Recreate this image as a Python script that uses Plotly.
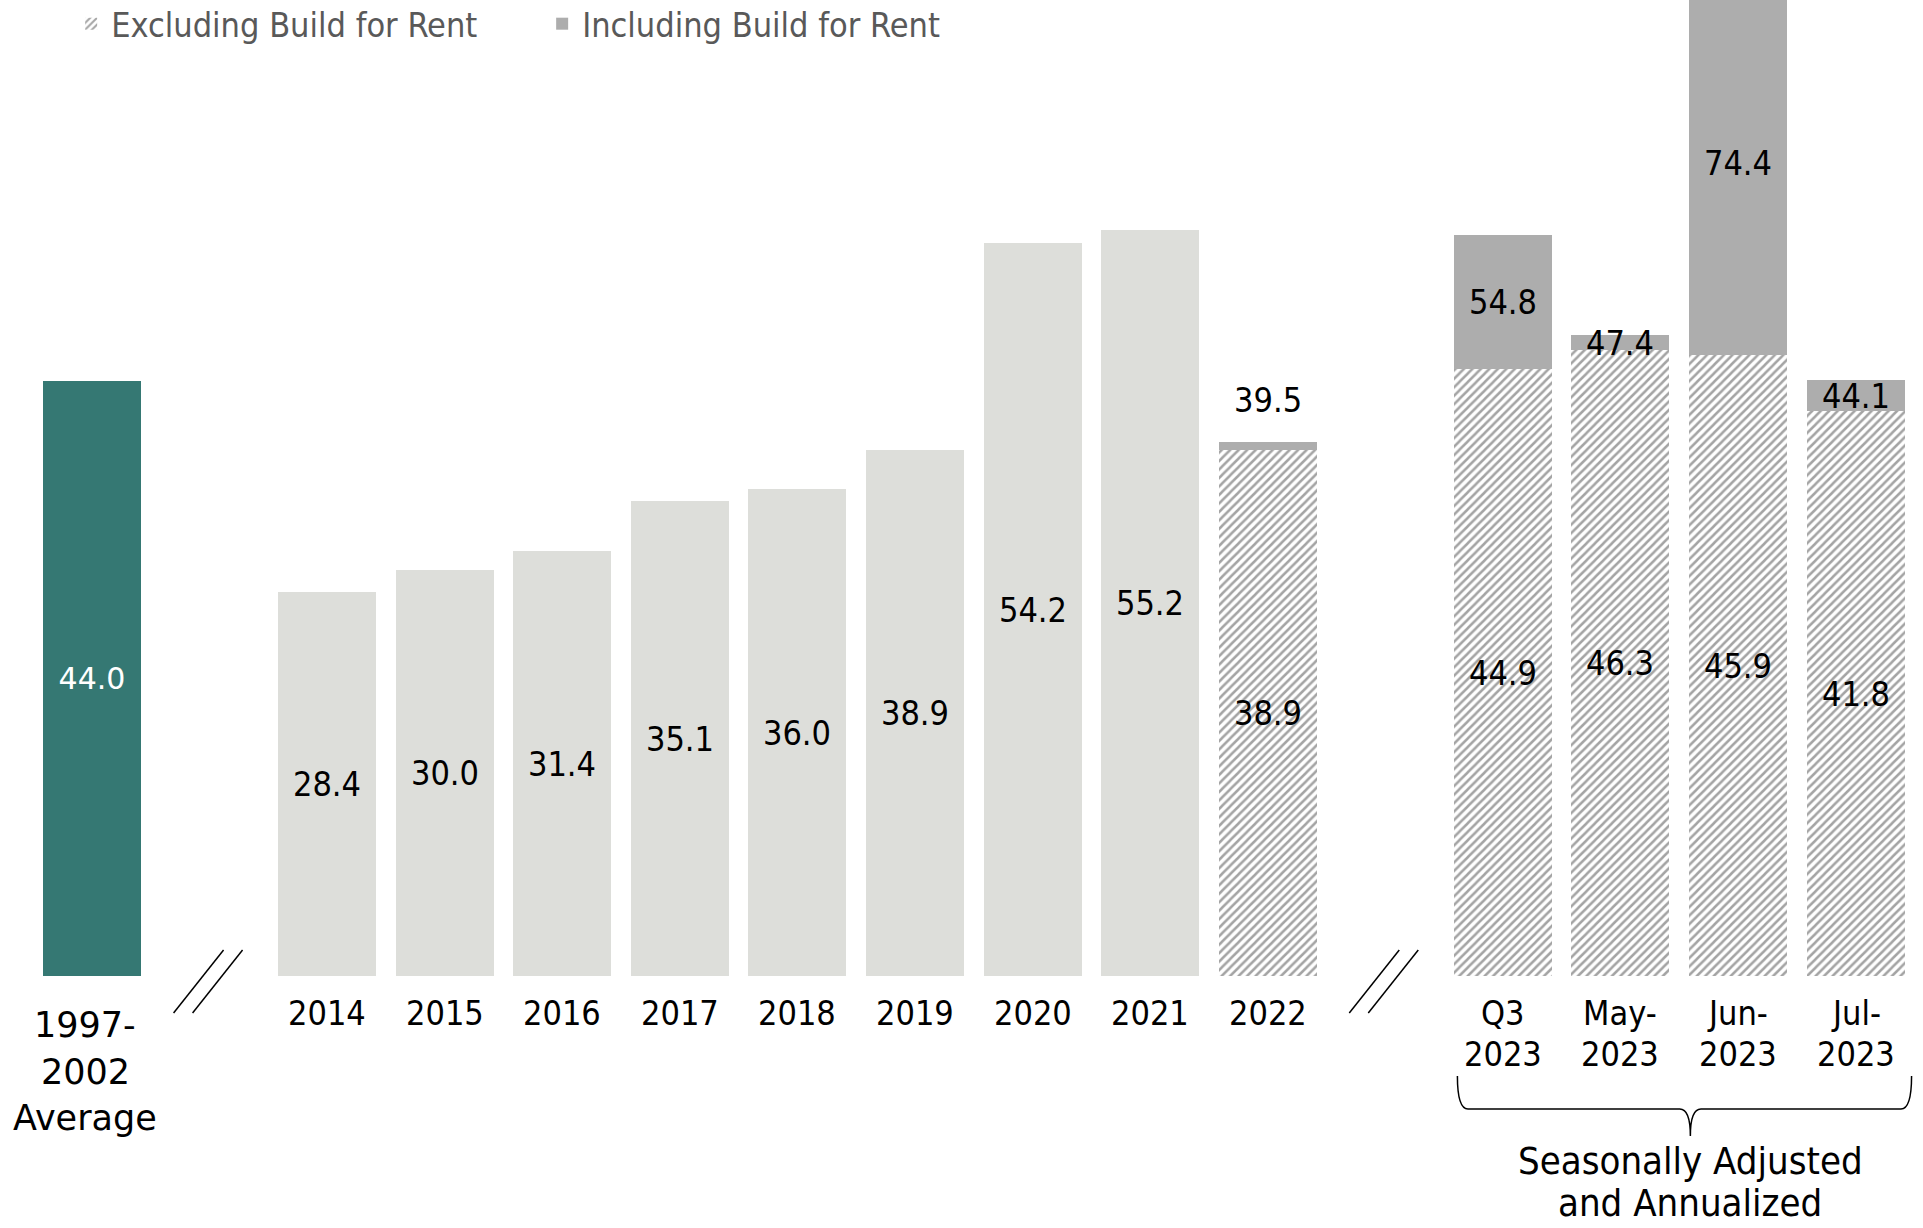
import plotly.graph_objects as go

# ---- data -------------------------------------------------------------
avg_label = "1997-<br>2002<br>Average"
avg_value = [44.0]

annual_labels = ["2014", "2015", "2016", "2017", "2018", "2019", "2020", "2021"]
annual_values = [28.4, 30.0, 31.4, 35.1, 36.0, 38.9, 54.2, 55.2]

recent_labels = ["2022", "Q3<br>2023", "May-<br>2023", "Jun-<br>2023", "Jul-<br>2023"]
excl_bfr = [38.9, 44.9, 46.3, 45.9, 41.8]
incl_bfr = [39.5, 54.8, 47.4, 74.4, 44.1]

legend_names = ["Excluding Build for Rent", "Including Build for Rent"]
brace_text = "Seasonally Adjusted<br>and Annualized"

# ---- layout constants ---------------------------------------------------
W, H = 1923, 1228
BASE_PX = 976           # baseline distance from top of figure
PX_PER_UNIT = 13.52     # vertical scale
SLOT_PX = 117.57        # horizontal distance between bar slots
FIRST_PX = 92           # centre of first slot
BAR_W = 0.833

NARROW = "DejaVu Sans Condensed, DejaVu Sans, sans-serif"
WIDE = "DejaVu Sans, Verdana, sans-serif"

TEAL = "#357873"
LIGHT = "#dddeda"
DARK = "#adadad"

# slot positions: average, gap, annual years, 2022, gap, recent months
avg_x = [0]
annual_x = [2 + i for i in range(len(annual_values))]
recent_x = [annual_x[-1] + 1] + [annual_x[-1] + 3 + i for i in range(len(recent_labels) - 1)]
break_x = [1, annual_x[-1] + 2]

fig = go.Figure()

fig.add_trace(go.Bar(
    x=avg_x, y=avg_value, width=BAR_W, marker=dict(color=TEAL, line=dict(width=0)),
    text=[f"{v:.1f}" for v in avg_value], textposition="inside", insidetextanchor="middle",
    textfont=dict(family=WIDE, size=30, color="white"), showlegend=False,
    constraintext="none", hoverinfo="skip",
))

fig.add_trace(go.Bar(
    x=annual_x, y=annual_values, width=BAR_W, marker=dict(color=LIGHT, line=dict(width=0)),
    text=[f"{v:.1f}" for v in annual_values], textposition="inside", insidetextanchor="middle",
    textfont=dict(family=NARROW, size=34, color="black"), showlegend=False,
    constraintext="none", hoverinfo="skip",
))

fig.add_trace(go.Bar(
    x=recent_x, y=excl_bfr, width=BAR_W, name=legend_names[0],
    marker=dict(color="white", line=dict(width=0),
                pattern=dict(shape="/", fgcolor="#a4a4a4", bgcolor="white",
                             size=6, solidity=0.42, fillmode="replace")),
    text=[f"{v:.1f}" for v in excl_bfr], textposition="inside", insidetextanchor="middle",
    textfont=dict(family=NARROW, size=34, color="black"),
    constraintext="none", hoverinfo="skip",
))

incl_extra = [t - e for t, e in zip(incl_bfr, excl_bfr)]
incl_text = ["" if i == 0 else f"{v:.1f}" for i, v in enumerate(incl_bfr)]
fig.add_trace(go.Bar(
    x=recent_x, y=incl_extra, width=BAR_W, name=legend_names[1],
    marker=dict(color=DARK, line=dict(width=0)),
    text=incl_text, textposition="inside", insidetextanchor="middle",
    textfont=dict(family=NARROW, size=34, color="black"),
    constraintext="none", hoverinfo="skip",
))

# total label above the 2022 bar
fig.add_annotation(x=recent_x[0], y=incl_bfr[0], text=f"{incl_bfr[0]:.1f}", showarrow=False,
                   yanchor="bottom", yshift=20, font=dict(family=NARROW, size=34, color="black"))


def add_axis_label(x, label, family, size, first_px, step_px, xshift=0):
    for k, line in enumerate(label.split("<br>")):
        fig.add_annotation(x=x, y=0, text=line, showarrow=False, yanchor="middle",
                           xshift=xshift, yshift=-(first_px + k * step_px),
                           font=dict(family=family, size=size, color="black"))


add_axis_label(avg_x[0], avg_label, WIDE, 35, 49, 46.6, xshift=-7)
for x, lab in zip(annual_x, annual_labels):
    add_axis_label(x, lab, NARROW, 34, 37, 40.5)
for x, lab in zip(recent_x, recent_labels):
    add_axis_label(x, lab, NARROW, 34, 37, 40.5)

# axis-break marks
for bx in break_x:
    for dx in (0, 19):
        fig.add_shape(type="line", xref="x", yref="y", xsizemode="pixel", ysizemode="pixel",
                      xanchor=bx, yanchor=0, x0=-36 + dx, y0=-37, x1=14 + dx, y1=26,
                      line=dict(color="black", width=1.5))

# brace under the seasonally adjusted months
L = recent_x[1] - BAR_W / 2 + 0.03
R = recent_x[-1] + BAR_W / 2 + 0.06
C = (L + R) / 2 + 0.05
r = 0.09
top, mid, tip = -100, -133, -160
brace = (f"M {L},{top} Q {L},{mid} {L + r},{mid} L {C - r},{mid} "
         f"Q {C},{mid} {C},{tip} Q {C},{mid} {C + r},{mid} "
         f"L {R - r},{mid} Q {R},{mid} {R},{top}")
fig.add_shape(type="path", xref="x", yref="y", ysizemode="pixel", yanchor=0,
              path=brace, line=dict(color="black", width=1.5))
for k, line in enumerate(brace_text.split("<br>")):
    fig.add_annotation(x=C, y=0, text=line, showarrow=False, yanchor="middle",
                       yshift=-(185 + k * 42),
                       font=dict(family=NARROW, size=38, color="black"))

y_top = BASE_PX / PX_PER_UNIT
y_bottom = -(H - BASE_PX) / PX_PER_UNIT
x_left = -FIRST_PX / SLOT_PX
x_right = (W - FIRST_PX) / SLOT_PX

fig.update_layout(
    width=W, height=H,
    margin=dict(l=0, r=0, t=0, b=0, autoexpand=False),
    paper_bgcolor="white", plot_bgcolor="white",
    barmode="stack", bargap=0,
    xaxis=dict(range=[x_left, x_right], visible=False, fixedrange=True),
    yaxis=dict(range=[y_bottom, y_top], visible=False, fixedrange=True),
    legend=dict(orientation="h", x=0.037, xanchor="left", y=1.004, yanchor="top",
                font=dict(family=NARROW, size=34, color="#595959"),
                entrywidth=426, bgcolor="rgba(0,0,0,0)", traceorder="normal"),
    showlegend=True,
)

fig.write_html("out.html")
